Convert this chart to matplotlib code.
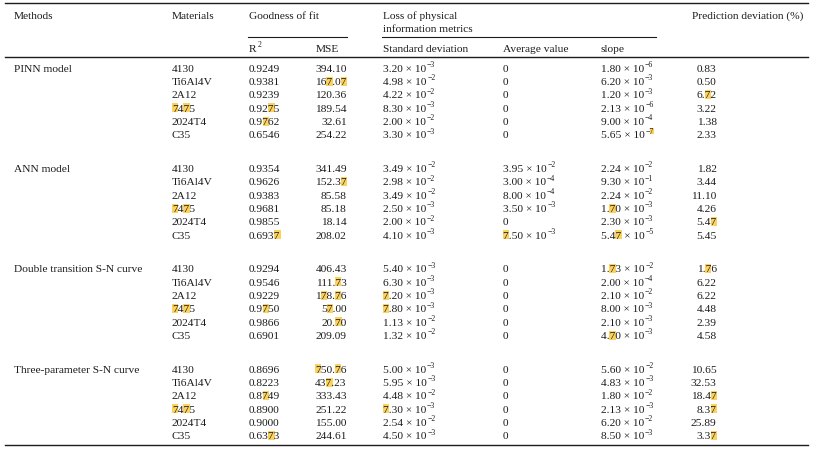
import matplotlib
matplotlib.use("Agg")
import matplotlib.pyplot as plt
from matplotlib.patches import Rectangle

FONT = "Liberation Serif"
FS = 8.2
INK = "#1c1c1c"
HL = "#fbd25e"

methods = ["PINN model", "ANN model", "Double transition S-N curve", "Three-parameter S-N curve"]
materials = ["4130", "Ti6Al4V", "2A12", "7475", "2024T4", "C35"]

r2 = [
    ["0.9249", "0.9381", "0.9239", "0.9275", "0.9762", "0.6546"],
    ["0.9354", "0.9626", "0.9383", "0.9681", "0.9855", "0.6937"],
    ["0.9294", "0.9546", "0.9229", "0.9750", "0.9866", "0.6901"],
    ["0.8696", "0.8223", "0.8749", "0.8900", "0.9000", "0.6373"],
]
mse = [
    ["394.10", "167.07", "120.36", "189.54", "32.61", "254.22"],
    ["341.49", "152.37", "85.58", "85.18", "18.14", "208.02"],
    ["406.43", "111.73", "178.76", "57.00", "20.70", "209.09"],
    ["750.76", "437.23", "333.43", "251.22", "155.00", "244.61"],
]
std_dev = [
    ["3.20e-3", "4.98e-2", "4.22e-2", "8.30e-3", "2.00e-2", "3.30e-3"],
    ["3.49e-2", "2.98e-2", "3.49e-2", "2.50e-3", "2.00e-2", "4.10e-3"],
    ["5.40e-3", "6.30e-3", "7.20e-3", "7.80e-3", "1.13e-2", "1.32e-2"],
    ["5.00e-3", "5.95e-3", "4.48e-2", "7.30e-3", "2.54e-2", "4.50e-3"],
]
avg_val = [
    ["0", "0", "0", "0", "0", "0"],
    ["3.95e-2", "3.00e-4", "8.00e-4", "3.50e-3", "0", "7.50e-3"],
    ["0", "0", "0", "0", "0", "0"],
    ["0", "0", "0", "0", "0", "0"],
]
slope = [
    ["1.80e-6", "6.20e-3", "1.20e-3", "2.13e-6", "9.00e-4", "5.65e-7"],
    ["2.24e-2", "9.30e-1", "2.24e-2", "1.70e-3", "2.30e-3", "5.47e-5"],
    ["1.73e-2", "2.00e-4", "2.10e-2", "8.00e-3", "2.10e-3", "4.70e-3"],
    ["5.60e-2", "4.83e-3", "1.80e-2", "2.13e-3", "6.20e-2", "8.50e-3"],
]
pred_dev = [
    ["0.83", "0.50", "6.72", "3.22", "1.38", "2.33"],
    ["1.82", "3.44", "11.10", "4.26", "5.47", "5.45"],
    ["1.76", "6.22", "6.22", "4.48", "2.39", "4.58"],
    ["10.65", "32.53", "18.47", "8.37", "25.89", "3.37"],
]

fig = plt.figure(figsize=(8.24, 4.51), dpi=100)
ax = fig.add_axes([0, 0, 1, 1])
ax.set_xlim(0, 824)
ax.set_ylim(451, 0)
ax.axis("off")
renderer = fig.canvas.get_renderer()


def width(s, size=FS):
    if not s:
        return 0.0
    t = ax.text(0, 0, s, fontsize=size, family=FONT)
    w = t.get_window_extent(renderer).width
    t.remove()
    return w


def piece(x, y, s, size=FS, mark=True):
    # draws s left-aligned at baseline y, highlights every "7", returns width
    ax.text(x, y, s, fontsize=size, family=FONT, color=INK, va="baseline", ha="left", zorder=3)
    if mark:
        w7 = width("7", size)
        h = size * 100 / 72 * 0.68
        for i, ch in enumerate(s):
            if ch == "7":
                x1 = x + width(s[:i + 1], size)
                ax.add_patch(Rectangle((x1 - w7 - 0.4, y - h - 0.6), w7 + 0.8, h + 1.2,
                                       color=HL, lw=0, zorder=2))
    return width(s, size)


def sci(x, y, s):
    if s == "0":
        piece(x, y, "0")
        return
    m, e = s.split("e")
    w = piece(x, y, m + " \u00d7 10")
    piece(x + w + 0.8, y - 4.6, "\u2212" + e.lstrip("-"), size=FS * 0.68)


def right(xr, y, s):
    piece(xr - width(s), y, s)


# rules
ax.plot([5, 808], [3, 3], color=INK, lw=1.0)
ax.plot([5, 808], [57, 57], color=INK, lw=1.0)
ax.plot([5, 808], [445.3, 445.3], color=INK, lw=1.0)
ax.plot([248, 347], [37, 37], color=INK, lw=0.8)
ax.plot([382, 656], [37, 37], color=INK, lw=0.8)

# header
hb = 18.7
for x, s in [(14, "Methods"), (172, "Materials"), (249, "Goodness of fit"),
             (383, "Loss of physical"), (692, "Prediction deviation (%)")]:
    piece(x, hb, s, mark=False)
piece(383, 31.7, "information metrics", mark=False)
w = piece(249, 51.7, "R", mark=False)
piece(249 + w + 0.6, 47.0, "2", size=FS * 0.68, mark=False)
for x, s in [(316, "MSE"), (383, "Standard deviation"), (503, "Average value"), (601, "slope")]:
    piece(x, 51.7, s, mark=False)

# body
for g, name in enumerate(methods):
    y0 = 71.7 + g * 100.35
    piece(14, y0, name, mark=False)
    for r, mat in enumerate(materials):
        y = y0 + r * 13.33
        piece(172, y, mat)
        piece(249, y, r2[g][r])
        right(346.7, y, mse[g][r])
        sci(383, y, std_dev[g][r])
        sci(503, y, avg_val[g][r])
        sci(601, y, slope[g][r])
        right(716.7, y, pred_dev[g][r])

fig.savefig("out.png", dpi=100)
